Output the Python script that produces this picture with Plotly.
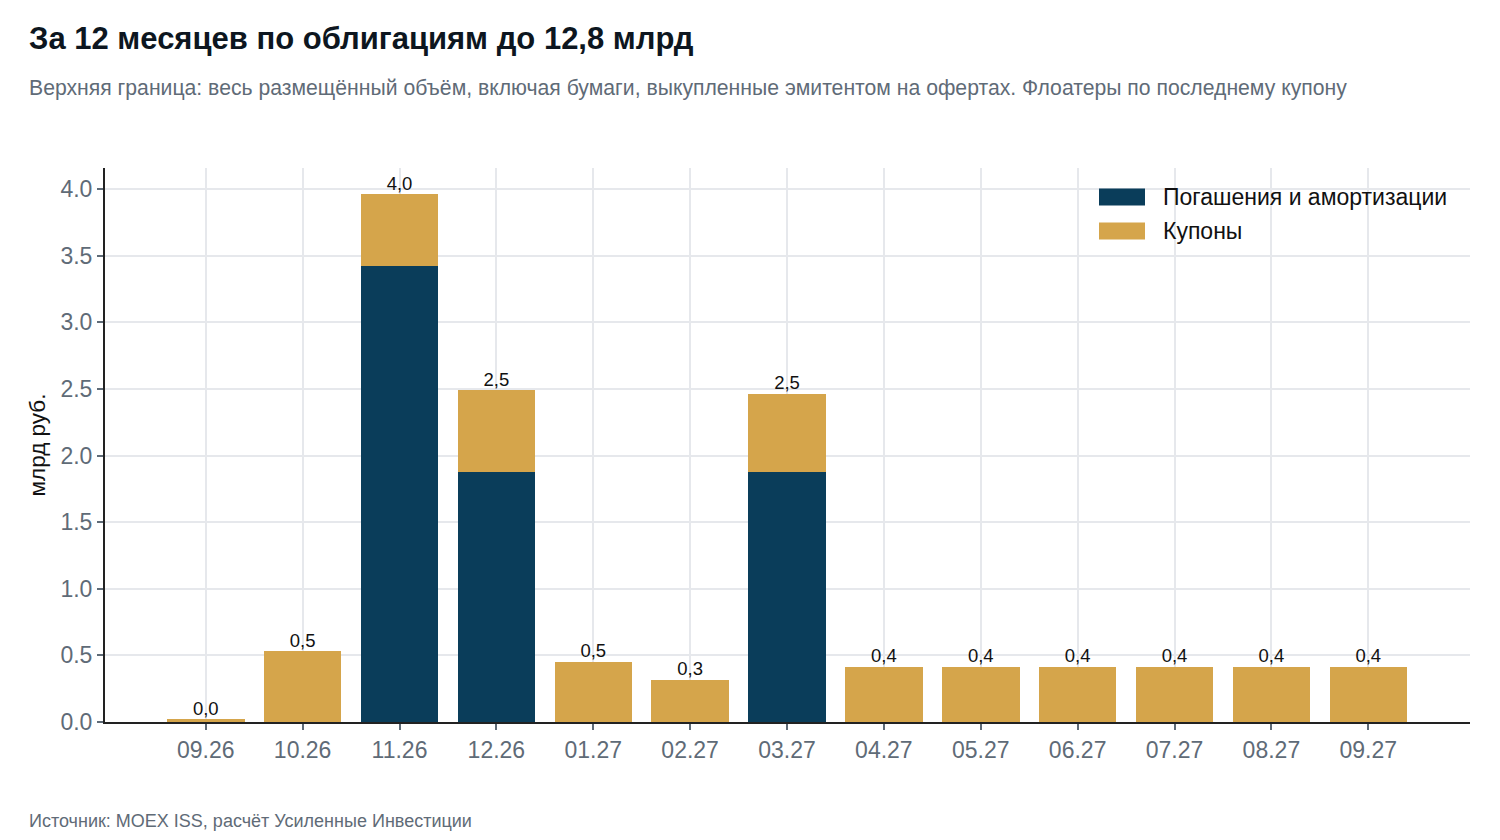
import plotly.graph_objects as go

months = ["09.26", "10.26", "11.26", "12.26", "01.27", "02.27", "03.27",
          "04.27", "05.27", "06.27", "07.27", "08.27", "09.27"]
redemptions = [0, 0, 3.42, 1.88, 0, 0, 1.88, 0, 0, 0, 0, 0, 0]
coupons = [0.02, 0.53, 0.54, 0.61, 0.45, 0.315, 0.585, 0.413, 0.413, 0.413, 0.413, 0.413, 0.413]
y_ticks = [0.0, 0.5, 1.0, 1.5, 2.0, 2.5, 3.0, 3.5, 4.0]
series_names = ["Погашения и амортизации", "Купоны"]

totals = [r + c for r, c in zip(redemptions, coupons)]
labels = [f"{t:.1f}".replace(".", ",") for t in totals]
xs = list(range(len(months)))

DARK = "#0a3d5a"
GOLD = "#d5a54b"
FONT = "Liberation Sans, Arial, sans-serif"

# page offset compensation (browser body margin)
OFF = 8
W, H = 1500 - OFF, 840 - OFF
ML, MR, MT, MB = 105 - OFF, 30, 168 - OFF, 118
plot_w = W - ML - MR
plot_h = H - MT - MB


def px_x(px):
    return (px - OFF - ML) / plot_w


def px_y(py):
    return (H - MB - (py - OFF)) / plot_h


fig = go.Figure()
fig.add_trace(go.Bar(x=xs, y=redemptions, name=series_names[0],
                     marker=dict(color=DARK, line=dict(width=0)), width=0.8,
                     showlegend=False))
fig.add_trace(go.Bar(x=xs, y=coupons, name=series_names[1],
                     marker=dict(color=GOLD, line=dict(width=0)), width=0.8,
                     showlegend=False))
fig.add_trace(go.Scatter(x=xs, y=totals, text=labels, mode="text",
                         textposition="top center",
                         textfont=dict(size=18.5, color="#111111", family=FONT),
                         showlegend=False, hoverinfo="skip", cliponaxis=False))

annotations = [
    dict(text="<b>За 12 месяцев по облигациям до 12,8 млрд</b>",
         x=px_x(27), y=px_y(38), font=dict(size=31, color="#0d1620", family=FONT)),
    dict(text="Верхняя граница: весь размещённый объём, включая бумаги, выкупленные эмитентом на офертах. Флоатеры по последнему купону",
         x=px_x(27), y=px_y(88), font=dict(size=21.2, color="#5f6b77", family=FONT)),
    dict(text="Источник: MOEX ISS, расчёт Усиленные Инвестиции",
         x=px_x(27), y=px_y(821), font=dict(size=18, color="#5f6b77", family=FONT)),
]
for a in annotations:
    a.update(xref="paper", yref="paper", xanchor="left", yanchor="middle", showarrow=False)

# custom legend (wide rectangular swatches)
shapes = []
legend_rows = [(series_names[0], DARK, 197), (series_names[1], GOLD, 231)]
for name, col, cy in legend_rows:
    shapes.append(dict(type="rect", xref="paper", yref="paper",
                       x0=px_x(1099), x1=px_x(1145), y0=px_y(cy - 8.5), y1=px_y(cy + 8.5),
                       fillcolor=col, line=dict(width=0), layer="above"))
    annotations.append(dict(text=name, xref="paper", yref="paper", x=px_x(1161), y=px_y(cy),
                            xanchor="left", yanchor="middle", showarrow=False,
                            font=dict(size=23, color="#111111", family=FONT)))

fig.update_layout(
    barmode="stack",
    width=W, height=H,
    paper_bgcolor="white", plot_bgcolor="white",
    font=dict(family=FONT, color="#111111"),
    margin=dict(l=ML, r=MR, t=MT, b=MB),
    showlegend=False,
    xaxis=dict(tickmode="array", tickvals=xs, ticktext=months,
               range=[-1.04, 13.05], showgrid=True, gridcolor="#e6e8ec", gridwidth=1.5,
               showline=True, linecolor="#222222", linewidth=2,
               ticks="outside", ticklen=6, tickcolor="#5f6b77", tickwidth=1.5,
               tickfont=dict(size=23, color="#5f6b77"), zeroline=False),
    yaxis=dict(range=[0, 4.158], tickmode="array", tickvals=y_ticks,
               ticktext=[f"{v:.1f}" for v in y_ticks],
               showgrid=True, gridcolor="#e6e8ec", gridwidth=1.5,
               showline=True, linecolor="#222222", linewidth=2,
               ticks="outside", ticklen=6, tickcolor="#5f6b77", tickwidth=1.5,
               tickfont=dict(size=23, color="#5f6b77"), zeroline=False,
               title=dict(text="млрд руб.", font=dict(size=22.5, color="#111111"), standoff=9)),
    annotations=annotations,
    shapes=shapes,
)

fig.write_html("out.html")
